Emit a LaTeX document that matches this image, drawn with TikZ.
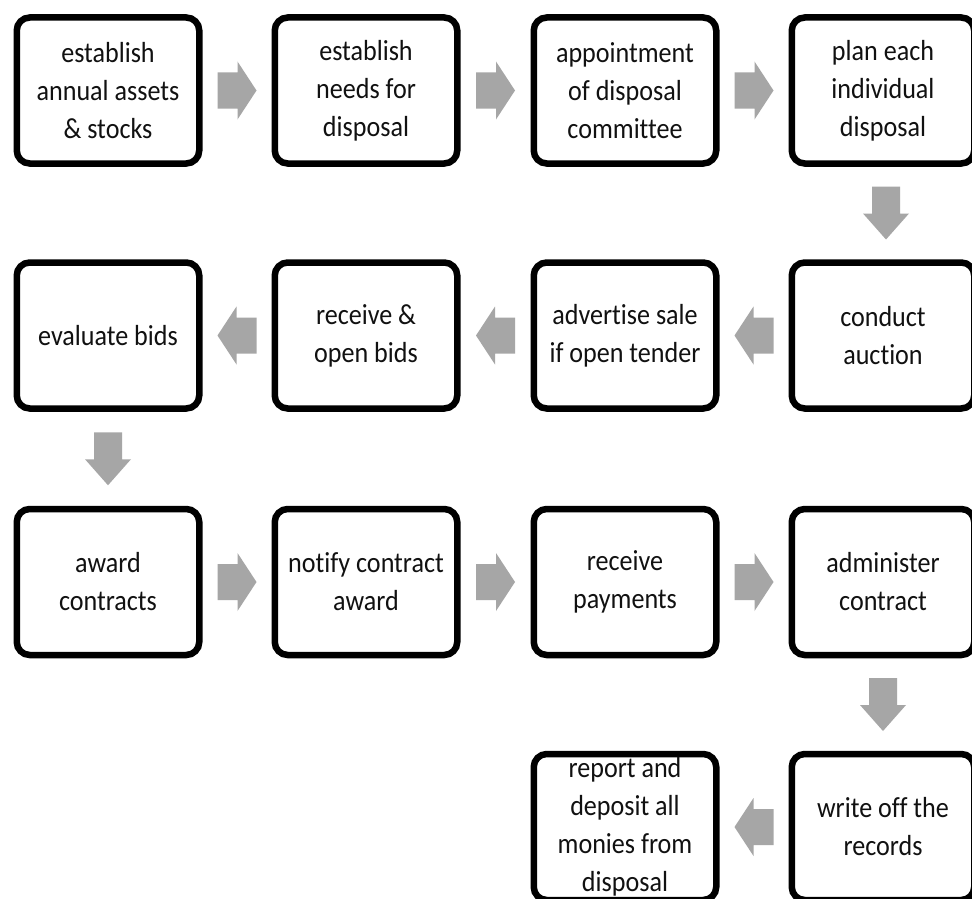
\documentclass[tikz,border=0pt]{standalone}
\usepackage{fontspec}
\setmainfont[FakeStretch=0.9, Ligatures=NoCommon]{Carlito}
\usetikzlibrary{calc}
\definecolor{arrowgray}{HTML}{A6A6A6}
\definecolor{textdark}{HTML}{111111}
\tikzset{
  stepbox/.style={draw=black, line width=6.5pt, rounded corners=13pt, fill=white,
    minimum width=182.5pt, minimum height=146pt, inner sep=0pt, align=center,
    text=textdark, font=\fontsize{29}{38}\selectfont},
  pics/rarrow/.style={code={\fill[arrowgray] (-19.5,-18) -- (0.5,-18) -- (0.5,-29) -- (19.5,0) -- (0.5,29) -- (0.5,18) -- (-19.5,18) -- cycle;}},
  pics/larrow/.style={code={\fill[arrowgray] (19.5,-18) -- (-0.5,-18) -- (-0.5,-29) -- (-19.5,0) -- (-0.5,29) -- (-0.5,18) -- (19.5,18) -- cycle;}},
  pics/darrow/.style={code={\fill[arrowgray] (-14,-26.5) -- (14,-26.5) -- (14,0.5) -- (23,0.5) -- (0,26.5) -- (-23,0.5) -- (-14,0.5) -- cycle;}}
}
\begin{document}
\begin{tikzpicture}[x=1pt,y=-1pt]
\useasboundingbox (0,0) rectangle (972,899);
\clip (0,0) rectangle (972,899);
\fill[white] (0,0) rectangle (972,899);
% row 1
\node[stepbox] (b1) at (108,90.5) {establish\\annual assets\\\& stocks};
\node[stepbox] (b2) at (366,90.5) {establish\\needs for\\disposal};
\node[stepbox] (b3) at (625,90.5) {appointment\\of disposal\\committee};
\node[stepbox] (b4) at (883,90.5) {plan each\\individual\\disposal};
% row 2
\node[stepbox] (b5) at (883,335.5) {conduct\\auction};
\node[stepbox] (b6) at (625,335.5) {advertise sale\\if open tender};
\node[stepbox] (b7) at (366,335.5) {receive \&\\open bids};
\node[stepbox] (b8) at (108,335.5) {evaluate bids};
% row 3
\node[stepbox] (b9) at (108,582) {award\\contracts};
\node[stepbox] (b10) at (366,582) {notify contract\\award};
\node[stepbox] (b11) at (625,582) {receive\\payments};
\node[stepbox] (b12) at (883,582) {administer\\contract};
% row 4
\node[stepbox] (b13) at (883,827) {write off the\\records};
\node[stepbox] (b14) at (625,827) {report and\\deposit all\\monies from\\disposal};
% arrows
\pic at ($(b1.east)!0.5!(b2.west)$) {rarrow};
\pic at ($(b2.east)!0.5!(b3.west)$) {rarrow};
\pic at ($(b3.east)!0.5!(b4.west)$) {rarrow};
\pic at ($(b4.south)!0.5!(b5.north)+(3,0)$) {darrow};
\pic at ($(b5.west)!0.5!(b6.east)$) {larrow};
\pic at ($(b6.west)!0.5!(b7.east)$) {larrow};
\pic at ($(b7.west)!0.5!(b8.east)$) {larrow};
\pic at ($(b8.south)!0.5!(b9.north)$) {darrow};
\pic at ($(b9.east)!0.5!(b10.west)$) {rarrow};
\pic at ($(b10.east)!0.5!(b11.west)$) {rarrow};
\pic at ($(b11.east)!0.5!(b12.west)$) {rarrow};
\pic at ($(b12.south)!0.5!(b13.north)$) {darrow};
\pic at ($(b13.west)!0.5!(b14.east)$) {larrow};
\end{tikzpicture}
\end{document}
